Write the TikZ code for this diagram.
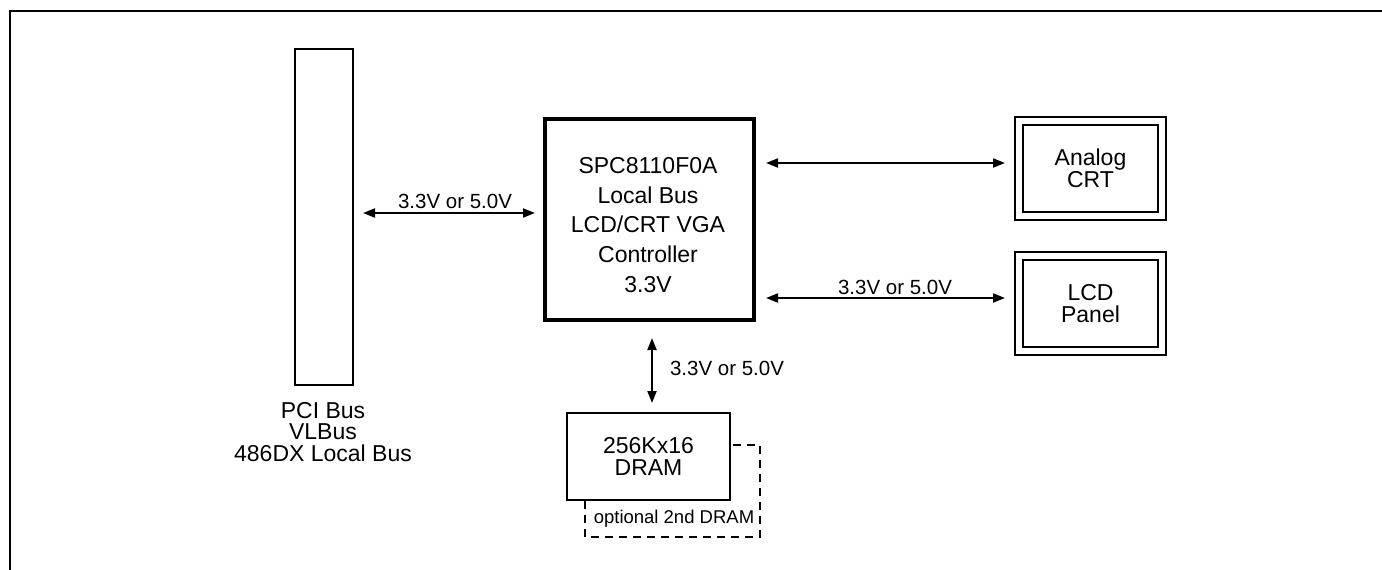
\documentclass[tikz,border=0pt]{standalone}
\usepackage{fontspec}
\setmainfont{Liberation Sans}
\usetikzlibrary{arrows.meta}
\begin{document}
\begin{tikzpicture}[x=1pt,y=-1pt,
  every node/.style={outer sep=0pt},
  box/.style={draw, line width=2.2pt, inner sep=0pt, fill=white},
  dbox/.style={draw, line width=2pt, double, double distance=6pt, inner sep=0pt, minimum width=143pt, minimum height=95pt},
  boxtext/.style={font=\fontsize{23}{21.5}\selectfont, align=center, inner sep=0pt},
  lbl/.style={font=\fontsize{20.5}{24}\selectfont, inner sep=0pt},
  biarrow/.style={line width=2pt, {Triangle[length=12pt,width=9pt]}-{Triangle[length=12pt,width=9pt]}},
  optdash/.style={line width=2pt, dash pattern=on 8pt off 6pt}
]
\useasboundingbox (0,0) rectangle (1382,570);
% frame
\draw[line width=2.5pt] (10,572) -- (10,11) -- (1384,11);

% PCI bus bar
\node[box, minimum width=58pt, minimum height=336pt] (bus) at (324,217) {};
\node[boxtext, anchor=north] (bustext) at (323,402) {PCI Bus\\VLBus\\486DX Local Bus};

% controller
\node[draw, line width=4pt, inner sep=0pt, minimum width=209pt, minimum height=201pt] (ctl) at (649.5,219.5) {};
\node[font=\fontsize{23}{29.75}\selectfont, align=center, inner sep=0pt] (ctltext) at (648,225)
  {SPC8110F0A\\Local Bus\\LCD/CRT VGA\\Controller\\3.3V};

% displays
\node[dbox] (crt) at (1090.5,168.5) {};
\node[boxtext] (crttext) at (crt.center) {Analog\\CRT};
\node[dbox] (lcd) at (1090.5,303.5) {};
\node[boxtext] (lcdtext) at (lcd.center) {LCD\\Panel};

% DRAM with optional second DRAM behind
\draw[optdash] (585,445) rectangle (760,537);
\node[box, minimum width=163pt, minimum height=87pt] (dram) at (648.5,456.5) {};
\node[boxtext] (dramtext) at (dram.center) {256Kx16\\DRAM};
\node[font=\fontsize{18.5}{22}\selectfont, inner sep=0pt, anchor=base] (opt) at (674,523) {optional 2nd DRAM};

% connectors
\coordinate (ya) at (0,213);
\coordinate (yb) at (0,163);
\coordinate (yc) at (0,298);
\coordinate (xv) at (652,0);
\draw[biarrow, shorten <=10pt, shorten >=10pt] (bus.east |- ya) -- (ctl.west |- ya);
\draw[biarrow, shorten <=12pt, shorten >=14pt] (ctl.east |- yb) -- (crt.west |- yb);
\draw[biarrow, shorten <=12pt, shorten >=14pt] (ctl.east |- yc) -- (lcd.west |- yc);
\draw[biarrow, shorten <=18pt, shorten >=10pt] (xv |- ctl.south) -- (xv |- dram.north);

% labels
\node[lbl, anchor=base] (l1) at (455,208) {3.3V or 5.0V};
\node[lbl, anchor=base] (l2) at (895,294) {3.3V or 5.0V};
\node[lbl, anchor=base west] (l3) at (670,375) {3.3V or 5.0V};
\end{tikzpicture}
\end{document}
